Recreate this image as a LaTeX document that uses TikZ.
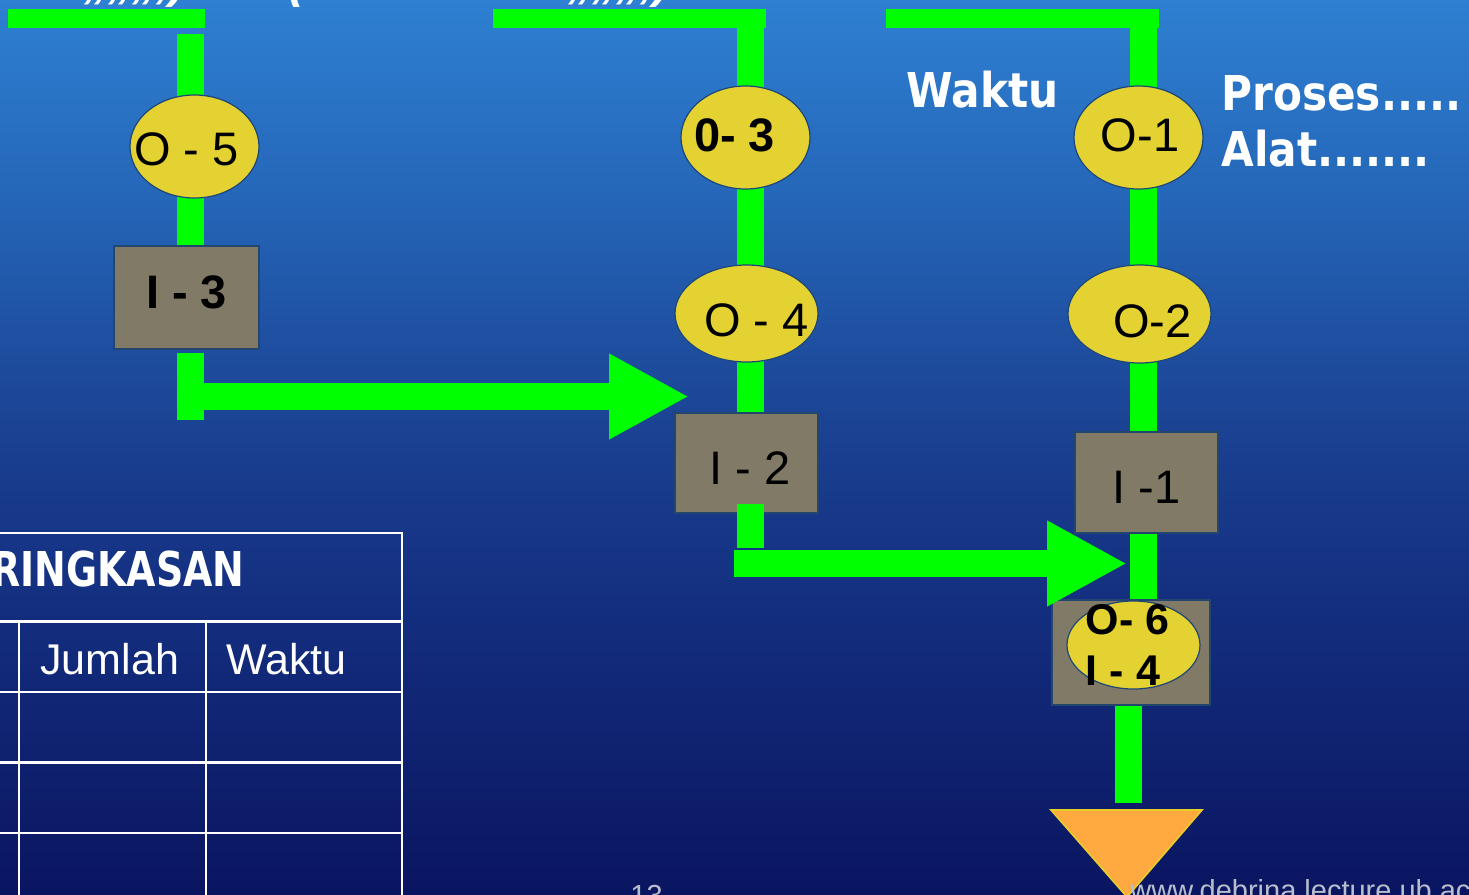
\documentclass[tikz,border=0pt]{standalone}
\usepackage{fontspec}
\setmainfont{Liberation Sans}
\newfontfamily\headfont{DejaVu Sans}[FakeStretch=0.88]
\newfontfamily\headnarrow{DejaVu Sans}[FakeStretch=0.79]
\usetikzlibrary{shapes.geometric,arrows.meta,calc}
\definecolor{bgtop}{RGB}{46,128,210}
\definecolor{bgA}{RGB}{37,102,184}
\definecolor{bgmid}{RGB}{26,63,144}
\definecolor{bgB}{RGB}{20,47,128}
\definecolor{bgbot}{RGB}{10,21,96}
\definecolor{flow}{RGB}{0,255,0}
\definecolor{ellfill}{RGB}{227,210,50}
\definecolor{ellline}{RGB}{30,70,120}
\definecolor{boxfill}{RGB}{128,122,102}
\definecolor{boxline}{RGB}{35,70,110}
\definecolor{endfill}{RGB}{255,170,64}
\definecolor{endline}{RGB}{235,205,40}
\definecolor{foot}{RGB}{185,190,205}
\pgfdeclareverticalshading{bgshade}{100bp}{color(0bp)=(bgbot); color(25bp)=(bgbot); color(41.5bp)=(bgB); color(50bp)=(bgmid); color(64bp)=(bgA); color(75bp)=(bgtop); color(100bp)=(bgtop)}
\pgfdeclarelayer{backlayer}
\pgfdeclarelayer{flowlayer}
\pgfsetlayers{backlayer,flowlayer,main}
\tikzset{
  ell/.style={ellipse, draw=ellline, line width=0.6pt, fill=ellfill, inner sep=0pt},
  opbox/.style={rectangle, draw=boxline, line width=0.6pt, fill=boxfill, inner sep=0pt},
  lbl/.style={font=\fontsize{23.5}{28}\selectfont, text=black, inner sep=0pt},
  lblb/.style={font=\fontsize{23.5}{28}\selectfont\bfseries, text=black, inner sep=0pt},
  lbls/.style={font=\fontsize{21.5}{26}\selectfont\bfseries, text=black, inner sep=0pt},
  head/.style={font=\headfont\bfseries\fontsize{24}{28}\selectfont, text=white, inner sep=0pt},
  headn/.style={font=\headnarrow\bfseries\fontsize{24}{28}\selectfont, text=white, inner sep=0pt},
  tabtext/.style={font=\fontsize{21.5}{26}\selectfont, text=white, inner sep=0pt},
  tabline/.style={draw=white, line width=1.25pt},
  foottext/.style={font=\fontsize{14.5}{17}\selectfont, text=foot, inner sep=0pt},
  frag/.style={font=\fontsize{24}{28}\selectfont\bfseries\itshape, text=white, inner sep=0pt},
  flowline/.style={draw=flow, line width=13.5pt},
  flowbar/.style={draw=flow, line width=9.5pt},
  flowarrow/.style={draw=flow, line width=13.5pt, -{Triangle[length=40pt,width=40pt]}},
  endsym/.style={fill=endfill, draw=endline, line width=0.8pt}
}
\begin{document}
\begin{tikzpicture}[x=0.5pt,y=-0.5pt]
\useasboundingbox (0,0) rectangle (1469,895);
\clip (0,0) rectangle (1469,895);
\begin{pgfonlayer}{backlayer}
\shade[shading=bgshade] (0,0) rectangle (1469,895);
\end{pgfonlayer}

% column guides
\coordinate (cL) at (190.5,0);
\coordinate (cM) at (750,0);
\coordinate (cR) at (1143,0);
\coordinate (cB) at (1128,0);

% incoming bars and junctions
\coordinate (inL1) at (8,18);
\coordinate (inL2) at (205,18);
\coordinate (dropL) at (190.5,34);
\coordinate (inM) at (493,18);
\coordinate (inM2) at (766,18);
\coordinate (cornM) at (750,18);
\coordinate (inR) at (886,18);
\coordinate (inR2) at (1159,18);
\coordinate (cornR) at (1143,18);
\coordinate (kL) at (190.5,420);
\coordinate (j1) at (689,396.5);
\coordinate (kM) at (750,548);
\coordinate (sM) at (734,563.5);
\coordinate (j2) at (1127,563.5);
\coordinate (endtop) at (1126.5,810);

% process nodes
\node[ell, minimum width=64.5pt, minimum height=51.5pt,
  label={[lbl,xshift=-4pt,yshift=-1.5pt]center:O - 5}] (o5) at (194.5,146.5) {};
\node[opbox, minimum width=72.5pt, minimum height=51.5pt,
  label={[lblb,yshift=2.75pt]center:I - 3}] (i3) at (186.5,297.5) {};
\node[ell, minimum width=64.5pt, minimum height=51.5pt,
  label={[lblb,xshift=-5.5pt,yshift=1.25pt]center:0- 3}] (o3) at (745.5,137.5) {};
\node[ell, minimum width=71.5pt, minimum height=48.5pt,
  label={[lbl,xshift=5pt,yshift=-3.5pt]center:O - 4}] (o4) at (746.5,313.5) {};
\node[opbox, minimum width=71.5pt, minimum height=50pt,
  label={[lbl,xshift=1.75pt,yshift=-2.75pt]center:I - 2}] (i2) at (746.5,463) {};
\node[ell, minimum width=64.5pt, minimum height=51.5pt,
  label={[lbl,xshift=0.75pt,yshift=1pt]center:O-1}] (o1) at (1138.5,137.5) {};
\node[ell, minimum width=71.5pt, minimum height=49pt,
  label={[lbl,xshift=6.5pt,yshift=-3.5pt]center:O-2}] (o2) at (1139.5,314) {};
\node[opbox, minimum width=71.5pt, minimum height=50.5pt,
  label={[lbl,yshift=-2.25pt]center:I -1}] (i1) at (1146.5,482.5) {};
\node[opbox, minimum width=79pt, minimum height=52.5pt] (b6) at (1131,652.5) {};
\node[ell, minimum width=66.5pt, minimum height=44pt,
  label={[lbls,xshift=-3pt,yshift=12.5pt]center:O- 6},
  label={[lbls,xshift=-5.25pt,yshift=-13pt]center:I - 4}] (o6) at (1133.5,645) {};

% end symbol
\draw[endsym] (1051,810) -- (1202,810) -- (1127,897) -- cycle;

% flow lines under the nodes
\begin{pgfonlayer}{flowlayer}
\draw[flowbar] (inL1) -- (inL2);
\draw[flowline] (dropL) -- (cL |- o5);
\draw[flowline] (cL |- o5) -- (cL |- i3);
\draw[flowline] ($(cL |- i3.south)+(0,3)$) -- (kL);
\draw[flowarrow] (cL |- j1) -- (j1);

\draw[flowbar] (inM) -- (inM2);
\draw[flowline] (cornM) -- (cM |- o3);
\draw[flowline] (cM |- o3) -- (cM |- o4);
\draw[flowline] (cM |- o4) -- (cM |- i2);

\draw[flowbar] (inR) -- (inR2);
\draw[flowline] (cornR) -- (cR |- o1);
\draw[flowline] (cR |- o1) -- (cR |- o2);
\draw[flowline] (cR |- o2) -- (cR |- i1);
\draw[flowline] (cR |- i1) -- (cR |- b6);
\draw[flowline] (cB |- b6.south) -- ($(cB |- endtop)+(0,-7)$);
\end{pgfonlayer}

% flow over the I-2 box
\draw[flowline] ($(cM |- i2.south)+(0,-10)$) -- (kM);
\draw[flowarrow] (sM) -- (j2);

% side texts
\node[head, anchor=base west] (waktu) at (906,107) {Waktu};
\node[head, anchor=base west] (proses) at (1221,110) {Proses.....};
\node[head, anchor=base west] (alat) at (1221,166) {Alat.......};

% summary table
\draw[tabline] (-5,533) -- (402,533) -- (402,900);
\draw[tabline] (-5,621.5) -- (402,621.5);
\draw[tabline] (-5,692) -- (402,692);
\draw[tabline] (-5,762.5) -- (402,762.5);
\draw[tabline] (-5,833) -- (402,833);
\draw[tabline] (19,621.5) -- (19,900);
\draw[tabline] (206,621.5) -- (206,900);
\node[headn, anchor=base east] (ringkasan) at (245,586) {RINGKASAN};
\node[tabtext, anchor=base west] (jumlah) at (40,674) {Jumlah};
\node[tabtext, anchor=base west] (waktuT) at (226,674) {Waktu};

% cut-off fragments at the edges
\node[frag, anchor=base west] (fr1) at (84,-3) {,,,,,,,)};
\node[frag, anchor=base west] (fr2) at (288,-3) {(};
\node[frag, anchor=base west] (fr3) at (568,-3) {,,,,,,,)};
\node[foottext, anchor=north west] (pagenum) at (630,885) {13};
\node[foottext, anchor=north west] (url) at (1130,879) {www.debrina.lecture.ub.ac.id};
\end{tikzpicture}
\end{document}
